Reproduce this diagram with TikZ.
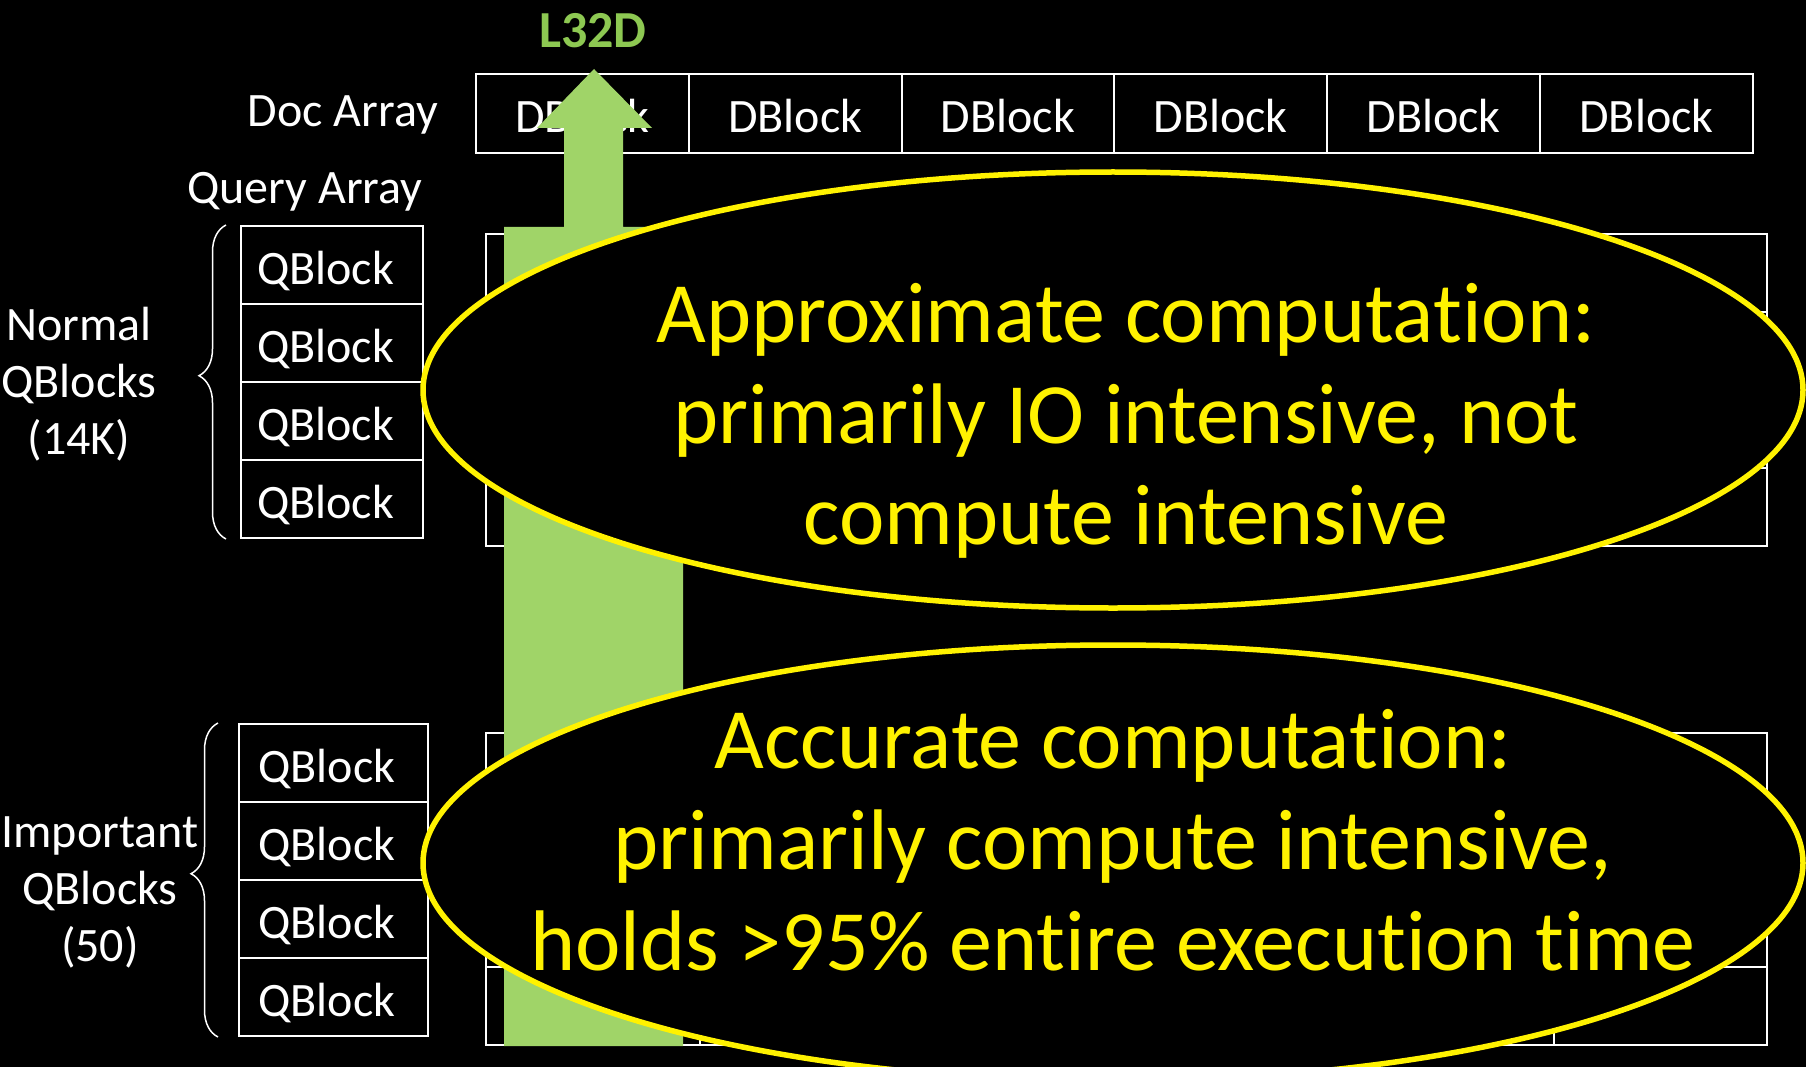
\documentclass[tikz,border=0pt]{standalone}
\usepackage{fontspec}
\setmainfont{Carlito}[Ligatures=NoCommon]
\usepackage{xcolor}
\usepackage{tikz}
\usetikzlibrary{shapes.geometric, decorations.pathreplacing}

\definecolor{arrowgreen}{HTML}{A0D468}
\definecolor{titlegreen}{HTML}{8DC852}

\begin{document}
\begin{tikzpicture}[
  x=1pt, y=-1pt,
  dblock/.style={draw=white, line width=2pt, minimum width=212.8pt, minimum height=79pt, inner sep=0pt, text height=38pt, text depth=0pt, text=white, font=\fontsize{48}{57}\selectfont},
  qblock/.style={draw=white, line width=2pt, minimum height=78pt, inner xsep=15pt, inner ysep=0pt, text width=150pt, text height=39pt, text depth=0pt, align=left, text=white, font=\fontsize{48}{57}\selectfont},
  sidelabel/.style={inner sep=0pt, align=center, text=white, font=\fontsize{48}{57}\selectfont},
  cellgrid/.style={draw=white, line width=2pt},
  qbrace/.style={draw=white, line width=1.5pt, decorate, decoration={brace, amplitude=27pt, aspect=0.52}},
  bubble/.style={ellipse, draw=yellow, line width=5.5pt, fill=black, minimum width=1380pt, minimum height=436pt, inner sep=0pt},
  bubbletext/.style={anchor=north, inner sep=0pt, align=center, text=yellow, font=\fontsize{86}{101}\selectfont}
]
\fill[black] (0,0) rectangle (1806,1067);
\useasboundingbox (0,0) rectangle (1806,1067);

% Score grids (mostly hidden behind the bubbles)
\draw[cellgrid] (486,234) rectangle (1767,546)
  (699.5,234) -- (699.5,546) (913,234) -- (913,546) (1126.5,234) -- (1126.5,546)
  (1340,234) -- (1340,546) (1553.5,234) -- (1553.5,546)
  (486,312) -- (1767,312) (486,390) -- (1767,390) (486,468) -- (1767,468);
\draw[cellgrid] (486,733) rectangle (1767,1045)
  (699.5,733) -- (699.5,1045) (913,733) -- (913,1045) (1126.5,733) -- (1126.5,1045)
  (1340,733) -- (1340,1045) (1553.5,733) -- (1553.5,1045)
  (486,811) -- (1767,811) (486,889) -- (1767,889) (486,967) -- (1767,967);

% Top row: doc array
\node[sidelabel, anchor=east] (docarr) at (438,115) {Doc Array};
\node[dblock] (d1) at (582.4,113.5) {DBlock};
\node[dblock] (d2) at (795.2,113.5) {DBlock};
\node[dblock] (d3) at (1008.0,113.5) {DBlock};
\node[dblock] (d4) at (1220.8,113.5) {DBlock};
\node[dblock] (d5) at (1433.6,113.5) {DBlock};
\node[dblock] (d6) at (1646.4,113.5) {DBlock};

% Left column: query array
\node[sidelabel] (qryarr) at (305,192) {Query Array};
\node[qblock, minimum width=182pt] (nq1) at (332,265) {QBlock};
\node[qblock, minimum width=182pt] (nq2) at (332,343) {QBlock};
\node[qblock, minimum width=182pt] (nq3) at (332,421) {QBlock};
\node[qblock, minimum width=182pt] (nq4) at (332,499) {QBlock};
\node[qblock, minimum width=189pt] (iq1) at (333.5,763) {QBlock};
\node[qblock, minimum width=189pt] (iq2) at (333.5,841) {QBlock};
\node[qblock, minimum width=189pt] (iq3) at (333.5,919) {QBlock};
\node[qblock, minimum width=189pt] (iq4) at (333.5,997) {QBlock};

% Braces and group labels
\draw[qbrace] ([xshift=-14pt]nq4.south west) -- ([xshift=-14pt]nq1.north west);
\draw[qbrace] ([xshift=-20pt]iq4.south west) -- ([xshift=-20pt]iq1.north west);
\node[sidelabel] (normlbl) at (79,384) {Normal\\QBlocks\\(14K)};
\node[sidelabel] (implbl) at (100,892) {Important\\QBlocks\\(50)};

% Big green arrow
\fill[arrowgreen] (504,1046) -- (504,227) -- (564,227) -- (564,128) -- (537,128) -- (594,69)
  -- (652,128) -- (623,128) -- (623,227) -- (683,227) -- (683,1046) -- cycle;
\node[inner sep=0pt, text=titlegreen, font=\fontsize{52}{60}\selectfont\bfseries] (l32d) at (593,31) {L32D};

% Bubbles
\node[bubble] (approx) at (1113,390) {};
\node[bubbletext] (approxtxt) at (1126,283) {Approximate computation:\\primarily IO intensive, not\\compute intensive};
\node[bubble] (accur) at (1113,863) {};
\node[bubbletext] (accurtxt) at (1113,709) {Accurate computation:\\primarily compute intensive,\\holds >95\% entire execution time};
\end{tikzpicture}
\end{document}
